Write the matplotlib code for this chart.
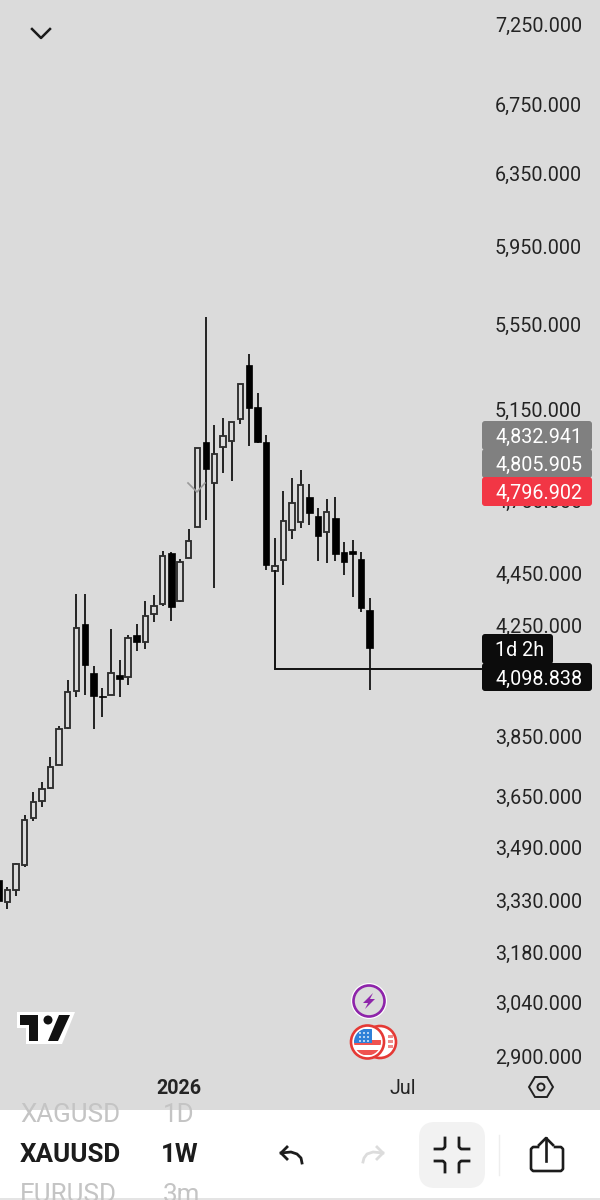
import matplotlib
matplotlib.use('Agg')
import matplotlib.pyplot as plt
from matplotlib.patches import Circle, FancyBboxPatch, Polygon, Rectangle
from matplotlib.ticker import NullLocator
import numpy as np

plt.rcParams['font.family'] = ['Roboto', 'DejaVu Sans']

# weekly XAUUSD candles
opens = [3391, 3324, 3360, 3436, 3583, 3637, 3680, 3755, 3881, 4010, 4256, 4075, 3992, 3996, 4068,
         4061, 4215, 4188, 4294, 4332, 4532, 4343, 4512, 4639, 5003, 4824, 4980, 5007, 5106, 5357,
         5160, 5003, 4461, 4505, 4627, 4660, 4764, 4685, 4619, 4676, 4536, 4540, 4509, 4309]
highs = [3397, 3370, 3442, 3593, 3666, 3699, 3782, 3888, 4050, 4370, 4370, 4100, 4021, 4237, 4122,
         4215, 4256, 4343, 4367, 4540, 4536, 4509, 4631, 4975, 5591, 5079, 5111, 5093, 5267, 5409,
         5225, 5034, 4594, 4790, 4846, 4880, 4820, 4718, 4755, 4764, 4577, 4585, 4536, 4355]
lows = [3316, 3304, 3342, 3430, 3574, 3618, 3676, 3755, 3878, 3989, 3996, 3878, 3919, 3996, 3989,
        4032, 4154, 4162, 4264, 4324, 4268, 4339, 4512, 4639, 4668, 4394, 4867, 4833, 5084, 4984,
        4998, 4465, 4461, 4406, 4590, 4635, 4648, 4501, 4493, 4501, 4445, 4359, 4302, 4014]
closes = [3327, 3360, 3439, 3577, 3634, 3676, 3749, 3878, 4007, 4241, 4104, 3992, 3989, 4075, 4054,
          4203, 4188, 4287, 4324, 4520, 4321, 4497, 4581, 4975, 4884, 4949, 5030, 5093, 5267, 5156,
          5003, 4485, 4481, 4664, 4739, 4816, 4697, 4602, 4701, 4528, 4497, 4528, 4317, 4166]

price_ticks = [7250, 6750, 6350, 5950, 5550, 5150, 4750, 4450, 4250, 3850, 3650, 3490, 3330, 3180, 3040, 2900]
time_ticks = [20.9, 46.85]
time_labels = ['2026', 'Jul']
level_price = 4090
level_start = 32
level_end = 55.9

tag_texts = ['4,832.941', '4,805.905', '4,796.902']
tag_colors = ['#808080', '#808080', '#f23645']

bg = '#dbdbdb'

fig = plt.figure(figsize=(6, 12), dpi=100, facecolor='white')
ax = fig.add_axes([0, 90 / 1200, 1, 1110 / 1200], facecolor=bg)
ax.set_yscale('log')
ax.set_ylim(2764, 7406)
ax.set_xlim(0.15, 69.68)
for s in ax.spines.values():
    s.set_visible(False)

x = np.arange(len(opens))
up = np.array(closes) >= np.array(opens)
tops = np.maximum(opens, closes)
bottoms = np.minimum(opens, closes)

ax.vlines(x, lows, highs, color='#1c1c1c', lw=1.35, zorder=2)
ax.bar(x[up], (tops - bottoms)[up], bottom=bottoms[up], width=0.62, facecolor=bg,
       edgecolor='#2e2e2e', linewidth=1.35, zorder=3)
ax.bar(x[~up], (tops - bottoms)[~up], bottom=bottoms[~up], width=0.76, facecolor='black',
       edgecolor='black', linewidth=0.5, zorder=3)

# drawn level from the small candle to the right
ax.plot([level_start, level_start, level_end], [lows[level_start], level_price, level_price],
        color='#111111', lw=1.4, zorder=4, solid_joinstyle='miter')

ax.yaxis.tick_right()
ax.yaxis.set_minor_locator(NullLocator())
ax.set_yticks(price_ticks)
ax.set_yticklabels([f'{p:,.3f}' for p in price_ticks])
ax.tick_params(axis='y', which='both', length=0, pad=-105 * 0.72, labelsize=14.2, labelcolor='#242424')
ax.set_xticks(time_ticks)
ax.set_xticklabels(time_labels)
ax.tick_params(axis='x', length=0, pad=-31 * 0.72, labelsize=14.2, labelcolor='#242424')
ax.get_xticklabels()[0].set_fontweight('bold')

# phone UI on top, in pixels
ui = fig.add_axes([0, 0, 1, 1], facecolor='none')
ui.set_xlim(0, 600)
ui.set_ylim(1200, 0)
ui.axis('off')

# small grey mark over the long candle
ui.plot([188, 197, 205], [483, 492, 483], color='#9a9a9a', lw=1.2)
# top chevron
ui.plot([32, 41, 50], [29, 38, 29], color='#1a1a1a', lw=1.8)


def tag(x0, y0, x1, y1, text, color):
    ui.add_patch(FancyBboxPatch((x0 + 2, y0 + 2), x1 - x0 - 4, y1 - y0 - 4, boxstyle='round,pad=2,rounding_size=3',
                                facecolor=color, edgecolor='none', zorder=5))
    ui.text(x0 + 13, (y0 + y1) / 2, text, color='white', fontsize=14.2, va='center_baseline', ha='left', zorder=6)


tag(482, 421, 592, 450, tag_texts[0], tag_colors[0])
tag(482, 449, 592, 478, tag_texts[1], tag_colors[1])
tag(482, 477, 592, 506, tag_texts[2], tag_colors[2])
tag(482, 634, 553, 664, '1d 2h', '#0c0c0c')
tag(482, 663, 592, 691, '4,098.838', '#0c0c0c')

# tradingview logo
ui.add_patch(Polygon([(17, 1012), (75, 1012), (62, 1044), (26, 1044), (26, 1028), (17, 1028)],
                     closed=True, facecolor='white', edgecolor='none', zorder=3))
ui.add_patch(Polygon([(20, 1015), (38, 1015), (38, 1041), (29, 1041), (29, 1025), (20, 1025)],
                     closed=True, facecolor='#111111', edgecolor='none', zorder=4))
ui.add_patch(Polygon([(59, 1015), (70, 1015), (58, 1041), (48, 1041)],
                     closed=True, facecolor='#111111', edgecolor='none', zorder=4))
ui.add_patch(Circle((48, 1020), 4.5, facecolor='#111111', edgecolor='none', zorder=4))

# event icons
ui.add_patch(Circle((369, 1001), 18, facecolor='white', edgecolor='none', zorder=3))
ui.add_patch(Circle((369, 1001), 15.5, facecolor=bg, edgecolor='#8e24aa', lw=1.9, zorder=4))
ui.add_patch(Polygon([(373, 993), (363, 1003), (368, 1003), (365, 1009), (375, 999), (370, 999)],
                     closed=True, facecolor='#8e24aa', edgecolor='none', zorder=5))
ui.add_patch(Circle((380, 1042), 16, facecolor='white', edgecolor='#e53935', lw=1.9, zorder=3))
for yy in [1035, 1040, 1045]:
    ui.add_patch(Rectangle((388, yy), 5, 2.5, facecolor='#ef8a88', edgecolor='none', zorder=3.5))
ui.add_patch(Circle((367.5, 1042), 16.5, facecolor='white', edgecolor='#e53935', lw=1.9, zorder=4))
flag_clip = Circle((367.5, 1042), 13.5, transform=ui.transData)
for yy in [1040, 1050]:
    r = ui.add_patch(Rectangle((354, yy), 27, 5, facecolor='#ef5350', edgecolor='none', zorder=5))
    r.set_clip_path(flag_clip)
r = ui.add_patch(Rectangle((354, 1029), 18, 14, facecolor='#2f80d8', edgecolor='none', zorder=6))
r.set_clip_path(flag_clip)
for sx in [360, 364, 368]:
    for sy in [1033, 1037, 1041]:
        ui.add_patch(Circle((sx, sy), 0.9, facecolor='white', edgecolor='none', zorder=7))

# settings hexagon
ui.add_patch(Polygon([(529, 1087), (535, 1077), (547, 1077), (553, 1087), (547, 1097), (535, 1097)],
                     closed=True, facecolor='none', edgecolor='#222222', lw=1.4))
ui.add_patch(Circle((541, 1087), 3.5, facecolor='none', edgecolor='#222222', lw=1.4))

# bottom bar
ui.add_patch(Rectangle((0, 1110), 600, 90, facecolor='white', edgecolor='none', zorder=1))
ui.add_patch(Rectangle((0, 1198), 600, 2, facecolor='#e4e4e4', edgecolor='none', zorder=2))
clip = Rectangle((0, 1110), 600, 88, transform=ui.transData)
for tx, ty, s, c, w in [(20, 1115, 'XAGUSD', '#c4c4c4', 'normal'), (163, 1115, '1D', '#c4c4c4', 'normal'),
                        (20, 1155, 'XAUUSD', '#1c1c1c', 'bold'), (161, 1155, '1W', '#1c1c1c', 'bold'),
                        (20, 1195, 'EURUSD', '#c4c4c4', 'normal'), (163, 1195, '3m', '#c4c4c4', 'normal')]:
    t = ui.text(tx, ty, s, color=c, fontsize=18.7, fontweight=w, va='center', ha='left', zorder=3)
    t.set_clip_path(clip)

# undo / redo
ui.plot([287, 281, 287], [1147, 1153, 1159], color='#1c1c1c', lw=2, zorder=3)
ui.plot([281, 291, 297, 301, 302], [1153, 1152, 1154, 1158, 1163], color='#1c1c1c', lw=2, zorder=3)
ui.plot([377, 383, 377], [1147, 1153, 1159], color='#dcdcdc', lw=2, zorder=3)
ui.plot([383, 373, 367, 364, 363], [1153, 1152, 1154, 1158, 1162], color='#dcdcdc', lw=2, zorder=3)

# compress button
ui.add_patch(FancyBboxPatch((431, 1134), 42, 42, boxstyle='round,pad=12,rounding_size=16',
                            facecolor='#f2f2f2', edgecolor='none', zorder=2))
for sx, sy in [(-1, -1), (1, -1), (-1, 1), (1, 1)]:
    ui.plot([452 + sx * 17, 452 + sx * 9, 452 + sx * 7, 452 + sx * 7],
            [1155 + sy * 6, 1155 + sy * 6, 1155 + sy * 8, 1155 + sy * 17],
            color='#1c1c1c', lw=2, zorder=3)
ui.plot([499, 499], [1135, 1175], color='#eeeeee', lw=1, zorder=3)

# share
ui.plot([538, 533, 531, 531, 533, 561, 563, 563, 561, 555], [1147, 1147, 1149, 1169, 1171, 1171, 1169, 1149, 1147, 1147],
        color='#1c1c1c', lw=1.9, zorder=3)
ui.plot([546, 546], [1161, 1138], color='#1c1c1c', lw=1.9, zorder=3)
ui.plot([539, 546, 553], [1145, 1138, 1145], color='#1c1c1c', lw=1.9, zorder=3)

fig.savefig('out.png', dpi=100)
